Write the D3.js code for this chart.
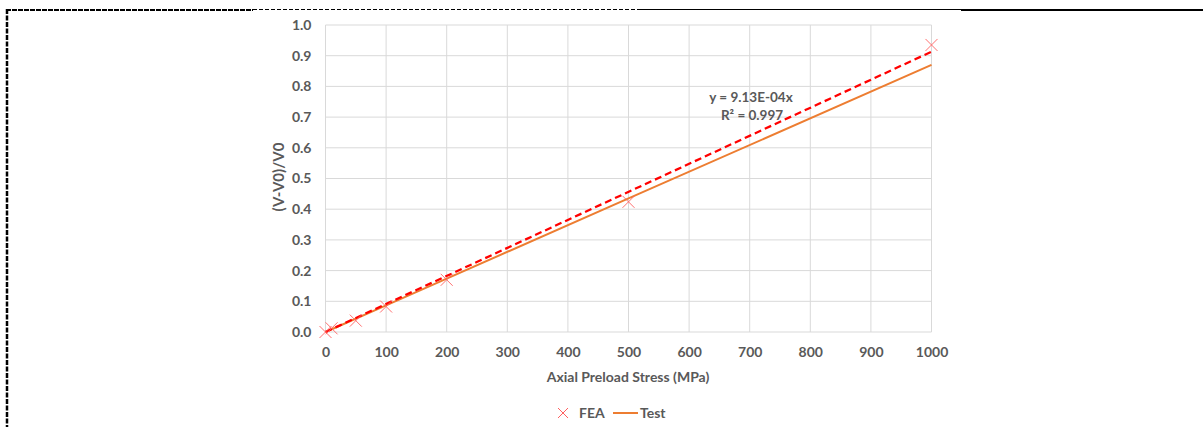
<!DOCTYPE html>
<html>
<head>
<meta charset="utf-8">
<script src="https://cdn.jsdelivr.net/npm/d3@7"></script>
<style>
  body { margin: 0; background: #fff; }
  text { font-family: Lato, "Liberation Sans", sans-serif; font-weight: bold; fill: #595959; }
</style>
</head>
<body>
<svg id="chart"></svg>
<script>
// données
const feaStress = [0, 10, 50, 100, 200, 500, 1000];
const feaRatio = [0.0, 0.012, 0.037, 0.083, 0.17, 0.424, 0.935];
const testStress = [0, 100, 200, 500, 1000];
const testRatio = [0.0, 0.087, 0.174, 0.435, 0.87];
const trendSlope = 9.13e-4;
const xTicks = [0, 100, 200, 300, 400, 500, 600, 700, 800, 900, 1000];
const yTicks = [0.0, 0.1, 0.2, 0.3, 0.4, 0.5, 0.6, 0.7, 0.8, 0.9, 1.0];

var W = 1203, H = 427;
var margin = {top: 25, left: 325.5, right: 1203 - 931.5, bottom: 427 - 332};

const svg = d3.select("#chart").attr("width", W).attr("height", H);

const x = d3.scaleLinear().domain([0, 1000]).range([margin.left, W - margin.right]);
const y = d3.scaleLinear().domain([0, 1]).range([H - margin.bottom, margin.top]);

// cadre de la page (pointillés en haut et à gauche)
svg.append("line").attr("x1", 6).attr("x2", 253).attr("y1", 10).attr("y2", 10)
  .attr("stroke", "#000").attr("stroke-width", 2).attr("stroke-dasharray", "5,1");
svg.append("line").attr("x1", 253).attr("x2", 639).attr("y1", 9.5).attr("y2", 9.5)
  .attr("stroke", "#000").attr("stroke-width", 1).attr("stroke-dasharray", "4,2");
svg.append("line").attr("x1", 639).attr("x2", 961).attr("y1", 9.5).attr("y2", 9.5)
  .attr("stroke", "#000").attr("stroke-width", 1);
svg.append("line").attr("x1", 961).attr("x2", W).attr("y1", 10).attr("y2", 10)
  .attr("stroke", "#000").attr("stroke-width", 2);
svg.append("line").attr("x1", 7).attr("x2", 7).attr("y1", 9).attr("y2", H)
  .attr("stroke", "#000").attr("stroke-width", 2.5).attr("stroke-dasharray", "5,1.5");

// grille
svg.append("g").selectAll("line").data(xTicks).enter().append("line")
  .attr("x1", d => x(d)).attr("x2", d => x(d))
  .attr("y1", y(1)).attr("y2", y(0))
  .attr("stroke", "#d9d9d9").attr("stroke-width", 1);
svg.append("g").selectAll("line").data(yTicks).enter().append("line")
  .attr("x1", x(0)).attr("x2", x(1000))
  .attr("y1", d => y(d)).attr("y2", d => y(d))
  .attr("stroke", "#d9d9d9").attr("stroke-width", 1);

// axes
const xAxis = svg.append("g").attr("transform", `translate(0,${y(0)})`)
  .call(d3.axisBottom(x).tickValues(xTicks).tickFormat(d3.format("d")).tickSize(0).tickPadding(15));
xAxis.select(".domain").remove();
xAxis.selectAll("text").style("font-size", "14px").attr("fill", "#595959");

const yAxis = svg.append("g").attr("transform", `translate(${x(0)},0)`)
  .call(d3.axisLeft(y).tickValues(yTicks).tickFormat(d3.format(".1f")).tickSize(0).tickPadding(14));
yAxis.select(".domain").remove();
yAxis.selectAll("text").style("font-size", "14px").attr("fill", "#595959");

svg.append("text").attr("x", 628).attr("y", 382).attr("text-anchor", "middle")
  .style("font-size", "14px").text("Axial Preload Stress (MPa)");
svg.append("text").attr("transform", "translate(284,177) rotate(-90)").attr("text-anchor", "middle")
  .style("font-size", "15px").text("(V-V0)/V0");

// courbe Test
const line = d3.line().x(d => x(d[0])).y(d => y(d[1]));
svg.append("path").datum(d3.zip(testStress, testRatio))
  .attr("d", line).attr("fill", "none").attr("stroke", "#ed7d31").attr("stroke-width", 2);

// tendance linéaire FEA
svg.append("path").datum([[0, 0], [1000, trendSlope * 1000]])
  .attr("d", line).attr("fill", "none").attr("stroke", "#ff0000")
  .attr("stroke-width", 2.25).attr("stroke-dasharray", "7,4");

// points FEA
svg.append("g").selectAll("path").data(d3.zip(feaStress, feaRatio)).enter().append("path")
  .attr("d", "M-6,-6L6,6M-6,6L6,-6")
  .attr("transform", d => `translate(${x(d[0])},${y(d[1])})`)
  .attr("stroke", "#ff6060").attr("stroke-opacity", 0.9).attr("stroke-width", 1).attr("fill", "none");

// équation
svg.append("text").attr("x", 751).attr("y", 102).attr("text-anchor", "middle")
  .style("font-size", "13.5px").text("y = 9.13E-04x");
svg.append("text").attr("x", 752).attr("y", 120).attr("text-anchor", "middle")
  .style("font-size", "13.5px").text("R² = 0.997");

// légende
svg.append("path").attr("d", "M-5,-5L5,5M-5,5L5,-5")
  .attr("transform", "translate(563,413)")
  .attr("stroke", "#ff6060").attr("stroke-width", 1).attr("fill", "none");
svg.append("text").attr("x", 579).attr("y", 418).style("font-size", "14px").text("FEA");
svg.append("line").attr("x1", 613).attr("x2", 638).attr("y1", 413).attr("y2", 413)
  .attr("stroke", "#ed7d31").attr("stroke-width", 2);
svg.append("text").attr("x", 640).attr("y", 418).style("font-size", "14px").text("Test");
</script>
</body>
</html>
